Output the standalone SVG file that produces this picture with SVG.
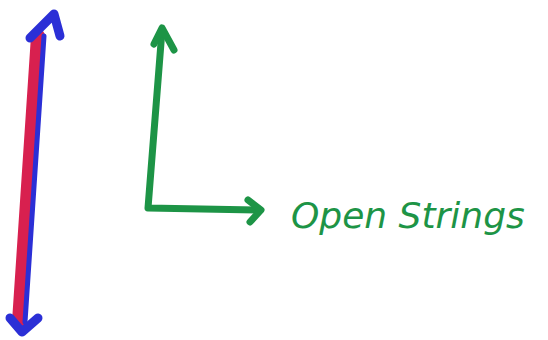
<svg xmlns="http://www.w3.org/2000/svg" width="548" height="340" viewBox="0 0 548 340">
<style>
.g{fill:none;stroke:#1d9446;stroke-width:7;stroke-linecap:round;stroke-linejoin:round}
.b{fill:none;stroke:#2b2fd6;stroke-linecap:round;stroke-linejoin:round}
.t{font-family:"DejaVu Sans",sans-serif;font-style:italic;fill:#1d9446}
</style>
<rect width="548" height="340" fill="#ffffff"/>
<g id="double-arrow">
<line x1="38" y1="36" x2="19" y2="322" stroke="#d8204f" stroke-width="14" stroke-linecap="round"/>
<line x1="44" y1="36" x2="25" y2="322" class="b" stroke-width="5"/>
<polyline points="30,38 54,14 60,36" class="b" stroke-width="9"/>
<polyline points="10,318 22,332 38,318" class="b" stroke-width="9"/>
</g>
<g id="axes">
<polyline points="162,30 148,208 258,210" class="g"/>
<polyline points="154,44 162,28 174,50" class="g"/>
<polyline points="248,200 261,210 250,222" class="g"/>
</g>
<g id="label">
<text x="291" y="228" class="t" font-size="36">Open Strings</text>
</g>
</svg>
